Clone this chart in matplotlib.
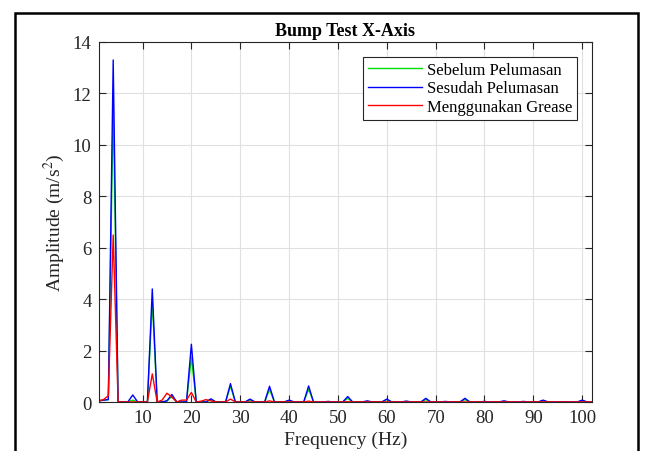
import numpy as np
import matplotlib.pyplot as plt
from matplotlib.patches import Rectangle

plt.rcParams['font.family'] = ['Liberation Serif', 'DejaVu Serif']
plt.rcParams['mathtext.fontset'] = 'stix'

# frekuensi 1..102 Hz
freq = np.arange(1, 103)

# nilai puncak (Hz: amplitudo), sisanya ~0
sebelum_pk = {1: 0.05, 2: 0.08, 3: 0.1, 4: 11.5, 8: 0.08, 12: 3.9, 15: 0.05, 16: 0.22,
              20: 1.75, 24: 0.1, 28: 0.62, 32: 0.08, 36: 0.5, 40: 0.05, 44: 0.5,
              52: 0.15, 56: 0.03, 60: 0.1, 64: 0.03, 68: 0.1, 76: 0.1, 84: 0.03,
              92: 0.05, 100: 0.05}
sesudah_pk = {1: 0.05, 2: 0.08, 3: 0.1, 4: 13.3, 8: 0.28, 12: 4.4, 15: 0.05, 16: 0.3,
              20: 2.25, 24: 0.13, 28: 0.72, 32: 0.12, 36: 0.62, 40: 0.08, 44: 0.63,
              48: 0.03, 52: 0.22, 56: 0.05, 60: 0.12, 64: 0.04, 68: 0.15, 72: 0.03,
              76: 0.15, 80: 0.03, 84: 0.05, 88: 0.03, 92: 0.08, 96: 0.02, 100: 0.08}
grease_pk = {1: 0.05, 2: 0.1, 3: 0.25, 4: 6.5, 12: 1.1, 14: 0.08, 15: 0.35, 16: 0.2,
             18: 0.08, 19: 0.08, 20: 0.38, 22: 0.04, 23: 0.1, 24: 0.05, 28: 0.12,
             36: 0.05, 44: 0.04, 52: 0.02}

sebelum = np.array([sebelum_pk.get(f, 0.01) for f in freq])
sesudah = np.array([sesudah_pk.get(f, 0.01) for f in freq])
grease = np.array([grease_pk.get(f, 0.01) for f in freq])

fig = plt.figure(figsize=(6.57, 4.52), dpi=100)
ax = fig.add_axes([0.150, 0.108, 0.751, 0.797])

ax.plot(freq, sebelum, color='#00e000', lw=1.0, label='Sebelum Pelumasan')
ax.plot(freq, sesudah, color='#0000ff', lw=1.0, label='Sesudah Pelumasan')
ax.plot(freq, grease, color='#ff0000', lw=1.0, label='Menggunakan Grease')

ax.set_xlim(1, 102)
ax.set_ylim(0, 14)
ax.set_xticks(np.arange(10, 101, 10))
ax.set_yticks(np.arange(0, 15, 2))
ax.grid(True, color='#e0e0e0', lw=0.8)
ax.set_axisbelow(True)
ax.tick_params(direction='in', top=True, right=True, labelsize=13.5, length=5,
               color='#262626', labelcolor='#262626', pad=5)
for s in ax.spines.values():
    s.set_color('#262626')
    s.set_linewidth(0.8)

ax.set_title('Bump Test X-Axis', fontsize=13, fontweight='bold', pad=5)
ax.set_xlabel('Frequency (Hz)', fontsize=14, color='#262626', labelpad=3)
ax.set_ylabel('Amplitude (m/s$^2$)', fontsize=14, color='#262626')

leg = ax.legend(loc='upper right', fontsize=12, fancybox=False, framealpha=1,
                edgecolor='#262626', borderpad=0.3, handlelength=3.2,
                handletextpad=0.3, labelspacing=0.15, borderaxespad=0.9)
leg.get_frame().set_linewidth(0.8)

# bingkai luar
fig.patches.append(Rectangle((15 / 657, -0.05), (638 - 15) / 657, 1.05 - 14 / 452,
                             transform=fig.transFigure, fill=False, lw=1.8,
                             edgecolor='black'))

fig.savefig('out.png', dpi=100)
